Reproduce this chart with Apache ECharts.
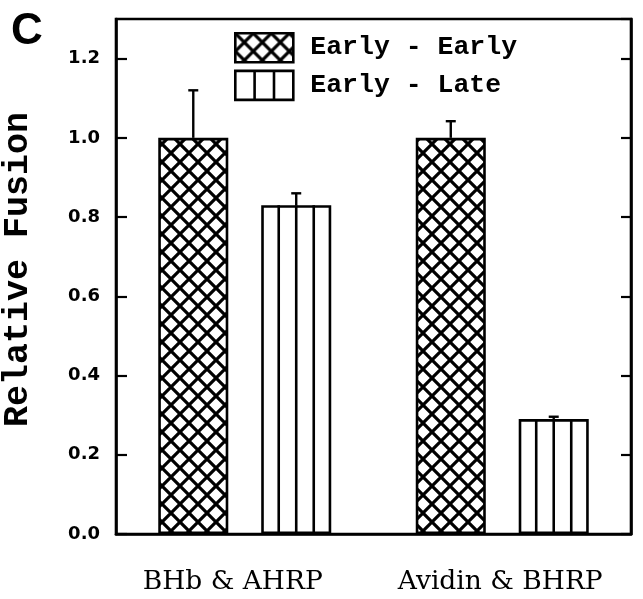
<!DOCTYPE html>
<html>
<head>
<meta charset="utf-8">
<title>Relative Fusion</title>
<script src="https://cdn.jsdelivr.net/npm/echarts@6/dist/echarts.min.js"></script>
<style>
	html, body { margin: 0; padding: 0; background: #fff; }
	#chart { width: 643px; height: 599px; }
</style>
</head>
<body>
<div id="chart"></div>
<script>
/*数据*/
var categories = ['BHb & AHRP', 'Avidin & BHRP'];
var seriesNames = ['Early - Early', 'Early - Late'];
var earlyEarly = [1.0, 1.0];
var earlyEarlyErr = [0.12, 0.042];
var earlyLate = [0.83, 0.29];
var earlyLateErr = [0.03, 0.006];
var yTicks = ['0.0', '0.2', '0.4', '0.6', '0.8', '1.0', '1.2'];

var BAR_FRAC = 0.272; // bar width / band width
var BAR_GAP = 0.47;   // gap / bar width
var LINE_W = 2.6;

/*交叉网格填充*/
function crossPattern() {
	var size = 18;
	var c = document.createElement('canvas');
	c.width = size;
	c.height = size;
	var ctx = c.getContext('2d');
	ctx.fillStyle = '#fff';
	ctx.fillRect(0, 0, size, size);
	ctx.strokeStyle = '#000';
	ctx.lineWidth = 3.2;
	ctx.beginPath();
	ctx.moveTo(-2, -2); ctx.lineTo(size + 2, size + 2);
	ctx.moveTo(size + 2, -2); ctx.lineTo(-2, size + 2);
	ctx.stroke();
	return { image: c, repeat: 'repeat' };
}

/*柱子的x位置，和bar系列的布局一致*/
function barGeom(api, cat, ser) {
	var band = api.size([1, 0])[0];
	var w = band * BAR_FRAC;
	var gap = w * BAR_GAP;
	var center = api.coord([cat, 0])[0];
	var left = center - (2 * w + gap) / 2 + ser * (w + gap);
	return { left: left, w: w, mid: left + w / 2 };
}

var stripeData = [];
for (var i = 0; i < categories.length; i++) {
	stripeData.push([i, earlyLate[i]]);
}
var errData = [];
for (var j = 0; j < categories.length; j++) {
	errData.push([j, earlyEarly[j], earlyEarly[j] + earlyEarlyErr[j], 0]);
	errData.push([j, earlyLate[j], earlyLate[j] + earlyLateErr[j], 1]);
}

var pattern = crossPattern();
var chart = echarts.init(document.getElementById('chart'));
var option = {
	animation: false,
	backgroundColor: '#fff',
	title: {
		text: 'C',
		left: 6,
		top: 5,
		textStyle: { fontFamily: 'Liberation Sans', fontWeight: 'bold', fontSize: 44, color: '#000' }
	},
	legend: {
		orient: 'vertical',
		left: 234,
		top: 32,
		padding: 0,
		itemWidth: 58,
		itemHeight: 29,
		itemGap: 6,
		selectedMode: false,
		textStyle: {
			fontFamily: 'Liberation Mono',
			fontWeight: 'bold',
			fontSize: 26.5,
			color: '#000',
			padding: [0, 0, 0, 12]
		},
		data: [
			{ name: seriesNames[0], icon: 'rect',
				itemStyle: { color: pattern, borderColor: '#000', borderWidth: LINE_W } },
			{ name: seriesNames[1], icon: 'path://M0,0H58V29H0Z M19.3,0V29 M38.7,0V29',
				itemStyle: { color: '#fff', borderColor: '#000', borderWidth: LINE_W } }
		]
	},
	grid: {
		left: 116,
		right: 12,
		top: 19,
		bottom: 65,
		containLabel: false,
		outerBoundsMode: 'none',
		show: true,
		borderColor: '#000',
		borderWidth: LINE_W
	},
	xAxis: {
		type: 'category',
		data: [
			{ value: categories[0], textStyle: { padding: [0, 24, 0, 0] } },
			{ value: categories[1], textStyle: { padding: [0, 4, 0, 0] } }
		],
		axisLine: { lineStyle: { color: '#000', width: LINE_W } },
		axisTick: { show: false },
		axisLabel: {
			interval: 0,
			margin: 35,
			fontFamily: 'DejaVu Serif',
			fontSize: 26.5,
			color: '#000'
		}
	},
	yAxis: [{
		type: 'value',
		min: 0,
		max: 1.3,
		interval: 0.2,
		name: 'Relative Fusion',
		nameLocation: 'middle',
		nameGap: 80,
		nameTextStyle: {
			fontFamily: 'Liberation Mono',
			fontWeight: 'bold',
			fontSize: 35,
			color: '#000',
			padding: [0, 0, 0, 14]
		},
		splitLine: { show: false },
		axisLine: { show: true, lineStyle: { color: '#000', width: LINE_W } },
		axisTick: { show: true, inside: true, length: 11, lineStyle: { color: '#000', width: 2.2 } },
		axisLabel: {
			showMaxLabel: false,
			margin: 16,
			fontFamily: 'DejaVu Sans',
			fontWeight: 'bold',
			fontSize: 18,
			color: '#000',
			formatter: function (v) {
				var k = Math.round(v / 0.2);
				return yTicks[k] || '';
			}
		}
	}, {
		type: 'value',
		position: 'right',
		min: 0,
		max: 1.3,
		interval: 0.2,
		splitLine: { show: false },
		axisLine: { show: true, lineStyle: { color: '#000', width: LINE_W } },
		axisTick: { show: true, inside: true, length: 10, lineStyle: { color: '#000', width: 2.2 } },
		axisLabel: { show: false }
	}],
	series: [{
		name: seriesNames[0],
		type: 'bar',
		data: earlyEarly,
		barWidth: (BAR_FRAC * 100) + '%',
		barGap: (BAR_GAP * 100) + '%',
		itemStyle: { color: pattern, borderColor: '#000', borderWidth: LINE_W }
	}, {
		name: seriesNames[1],
		type: 'bar',
		data: earlyLate,
		barWidth: (BAR_FRAC * 100) + '%',
		barGap: (BAR_GAP * 100) + '%',
		itemStyle: { color: '#fff', borderColor: '#000', borderWidth: LINE_W }
	}, {
		/*竖条纹*/
		type: 'custom',
		z: 5,
		silent: true,
		data: stripeData,
		renderItem: function (params, api) {
			var cat = api.value(0);
			var g = barGeom(api, cat, 1);
			var top = api.coord([cat, api.value(1)])[1];
			var base = api.coord([cat, 0])[1];
			var kids = [];
			for (var k = 1; k < 4; k++) {
				var x = g.left + g.w * k / 4;
				kids.push({
					type: 'line',
					shape: { x1: x, y1: top, x2: x, y2: base },
					style: { stroke: '#000', lineWidth: LINE_W }
				});
			}
			return { type: 'group', children: kids };
		}
	}, {
		/*误差线*/
		type: 'custom',
		z: 6,
		silent: true,
		data: errData,
		renderItem: function (params, api) {
			var cat = api.value(0);
			var g = barGeom(api, cat, api.value(3));
			var y0 = api.coord([cat, api.value(1)])[1];
			var y1 = api.coord([cat, api.value(2)])[1];
			return {
				type: 'group',
				children: [{
					type: 'line',
					shape: { x1: g.mid, y1: y0, x2: g.mid, y2: y1 },
					style: { stroke: '#000', lineWidth: 2.4 }
				}, {
					type: 'line',
					shape: { x1: g.mid - 5, y1: y1, x2: g.mid + 5, y2: y1 },
					style: { stroke: '#000', lineWidth: 2.4 }
				}]
			};
		}
	}]
};
chart.setOption(option);
</script>
</body>
</html>
